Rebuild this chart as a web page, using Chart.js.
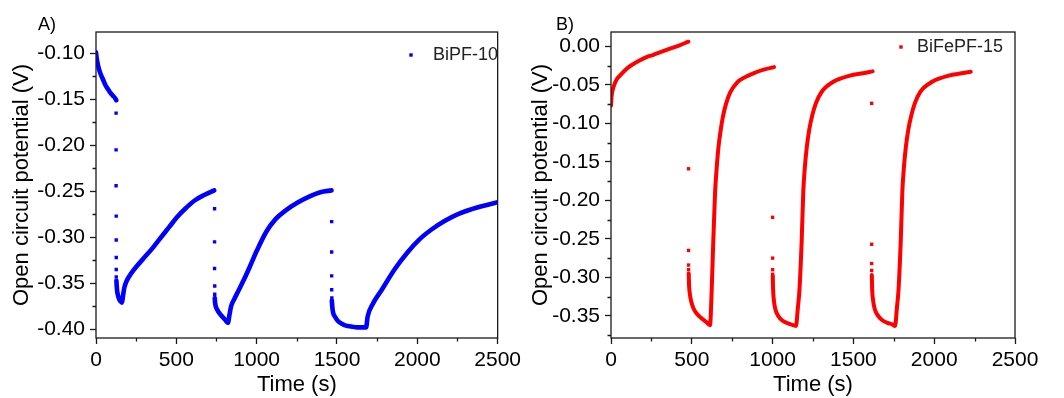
<!DOCTYPE html>
<html>
<head>
<meta charset="utf-8">
<script src="https://cdn.jsdelivr.net/npm/chart.js@4.4.1/dist/chart.umd.min.js"></script>
<style>
  html, body { margin: 0; padding: 0; background: #fff; }
  #wrap { position: relative; width: 1064px; height: 398px; }
  canvas { position: absolute; top: 0; }
  #chartA { left: 0; }
  #chartB { left: 525px; }
</style>
</head>
<body>
<div id="wrap">
  <canvas id="chartA" width="525" height="398"></canvas>
  <canvas id="chartB" width="539" height="398"></canvas>
</div>
<script>
/* Open circuit potential vs time, two samples.
   Values (time in s, potential in V). */

// ---- A) BiPF-10 ----
const aSeg1T = [0, 4, 10, 20, 30, 45, 60, 75, 90, 105, 120, 126];
const aSeg1V = [-0.099, -0.105, -0.111, -0.118, -0.123, -0.129, -0.135, -0.139, -0.143, -0.146, -0.149, -0.151];
const aDrop1T = [125, 125, 125, 126, 126, 126, 126, 126];
const aDrop1V = [-0.165, -0.205, -0.244, -0.277, -0.303, -0.322, -0.335, -0.343];
const aSeg2T = [127, 129, 132, 138, 146, 155, 162, 168, 176, 192, 216, 256, 306, 356, 405, 455, 505, 555, 614, 674, 736];
const aSeg2V = [-0.347, -0.353, -0.359, -0.364, -0.368, -0.370, -0.371, -0.364, -0.355, -0.347, -0.340, -0.331, -0.321, -0.311, -0.300, -0.289, -0.278, -0.269, -0.260, -0.254, -0.249];
const aDrop2T = [738, 738, 738, 739, 739];
const aDrop2V = [-0.269, -0.305, -0.334, -0.353, -0.362];
const aSeg3T = [739, 742, 747, 755, 770, 790, 805, 821, 831, 841, 861, 881, 921, 960, 1000, 1060, 1119, 1179, 1258, 1337, 1397, 1466];
const aSeg3V = [-0.366, -0.372, -0.376, -0.379, -0.383, -0.387, -0.390, -0.393, -0.384, -0.375, -0.367, -0.360, -0.346, -0.331, -0.315, -0.294, -0.280, -0.271, -0.262, -0.255, -0.251, -0.249];
const aDrop3T = [1467, 1467, 1467, 1467, 1468];
const aDrop3V = [-0.283, -0.316, -0.342, -0.357, -0.366];
const aSeg4T = [1468, 1471, 1476, 1490, 1506, 1530, 1556, 1590, 1625, 1660, 1681, 1691, 1721, 1779, 1858, 1936, 2015, 2093, 2172, 2250, 2328, 2407, 2500];
const aSeg4V = [-0.369, -0.376, -0.382, -0.387, -0.391, -0.394, -0.396, -0.397, -0.398, -0.398, -0.398, -0.386, -0.373, -0.357, -0.335, -0.317, -0.302, -0.291, -0.282, -0.275, -0.270, -0.266, -0.262];

// ---- B) BiFePF-15 ----
const bSeg1T = [0, 3, 10, 20, 35, 60, 97, 130, 179, 220, 262, 300, 365, 420, 479];
const bSeg1V = [-0.077, -0.066, -0.057, -0.050, -0.043, -0.037, -0.029, -0.024, -0.018, -0.014, -0.011, -0.008, -0.003, 0.001, 0.006];
const bDrop1T = [480, 480, 480, 480];
const bDrop1V = [-0.159, -0.265, -0.284, -0.290];
const bSeg2T = [481, 483, 487, 496, 510, 530, 560, 590, 613, 623, 633, 644, 654, 665, 678, 692, 710, 737, 780, 830, 881, 950, 1009];
const bSeg2V = [-0.295, -0.310, -0.320, -0.331, -0.340, -0.347, -0.353, -0.358, -0.362, -0.317, -0.253, -0.190, -0.158, -0.131, -0.110, -0.092, -0.076, -0.060, -0.047, -0.040, -0.035, -0.030, -0.027];
const bDrop2T = [1000, 1000, 1000, 1000];
const bDrop2V = [-0.222, -0.275, -0.290, -0.296];
const bSeg3T = [1001, 1003, 1008, 1018, 1035, 1060, 1100, 1145, 1156, 1166, 1180, 1190, 1200, 1212, 1227, 1245, 1268, 1304, 1376, 1479, 1560, 1619];
const bSeg3V = [-0.298, -0.315, -0.330, -0.342, -0.350, -0.356, -0.360, -0.363, -0.340, -0.317, -0.2525, -0.188, -0.156, -0.130, -0.108, -0.090, -0.074, -0.059, -0.046, -0.038, -0.035, -0.0325];
const bDrop3T = [1613, 1613, 1613, 1613];
const bDrop3V = [-0.074, -0.257, -0.282, -0.291];
const bSeg4T = [1614, 1616, 1622, 1632, 1650, 1675, 1710, 1740, 1758, 1769, 1779, 1793, 1803, 1813, 1825, 1840, 1858, 1880, 1914, 1987, 2090, 2170, 2226];
const bSeg4V = [-0.297, -0.315, -0.330, -0.341, -0.349, -0.355, -0.359, -0.361, -0.363, -0.340, -0.317, -0.2525, -0.188, -0.156, -0.130, -0.108, -0.090, -0.074, -0.059, -0.046, -0.038, -0.035, -0.033];

const xTicksMajor = 500;
const yTicksMajor = 0.05;

const FONT = '"Liberation Sans", Arial, Helvetica, sans-serif';
const AXIS = '#1a1a1a';

Chart.defaults.font.family = FONT;
Chart.defaults.color = '#000';
Chart.defaults.animation = false;

const pts = (ts, vs) => ts.map((t, i) => ({ x: t, y: vs[i] }));

function curve(ts, vs, color, w) {
  return {
    data: pts(ts, vs), showLine: true, borderColor: color, borderWidth: w,
    borderCapStyle: 'round', borderJoinStyle: 'round',
    pointRadius: 0, cubicInterpolationMode: 'monotone',
  };
}
function dots(label, ts, vs, color) {
  return {
    label, data: pts(ts, vs), showLine: false, pointStyle: 'rect',
    pointRadius: 2.4, backgroundColor: color, borderColor: color, borderWidth: 0,
  };
}

// frame, minor ticks, inside legend and panel letter
const decor = {
  id: 'decor',
  afterDraw(chart, args, o) {
    const { ctx, chartArea: ca } = chart;
    ctx.save();
    ctx.strokeStyle = AXIS;
    ctx.lineWidth = 1.3;
    ctx.strokeRect(ca.left, ca.top, ca.right - ca.left, ca.bottom - ca.top);

    ['x', 'y'].forEach((id) => {
      const s = chart.scales[id];
      const vals = s.ticks.map((t) => t.value);
      const step = id === 'x' ? xTicksMajor : yTicksMajor;
      const minors = [vals[0] - step / 2].concat(vals.map((v) => v + step / 2))
        .filter((v) => v > s.min && v < s.max);
      ctx.beginPath();
      minors.forEach((v) => {
        const p = Math.round(s.getPixelForValue(v)) + 0.5;
        if (id === 'x') { ctx.moveTo(p, ca.bottom); ctx.lineTo(p, ca.bottom + 3.5); }
        else { ctx.moveTo(ca.left, p); ctx.lineTo(ca.left - 3.5, p); }
      });
      ctx.stroke();
    });

    const ds = chart.data.datasets.find((d) => d.label);
    ctx.fillStyle = ds.backgroundColor;
    ctx.fillRect(o.legX - o.legGap - 1.7, o.legY - 1.7, 3.4, 3.4);
    ctx.fillStyle = '#222';
    ctx.font = '18px ' + FONT;
    ctx.textBaseline = 'middle';
    ctx.textAlign = 'left';
    ctx.fillText(ds.label, o.legX, o.legY);

    ctx.fillStyle = '#000';
    ctx.fillText(o.letter, o.letX, o.letY);
    ctx.restore();
  },
};

function makeChart(el, datasets, yMin, yMax, padRight, yWidth, titlePad, deco) {
  return new Chart(el, {
    type: 'scatter',
    data: { datasets },
    options: {
      responsive: false,
      layout: { padding: { left: 0, right: padRight, top: 32, bottom: 0 } },
      scales: {
        x: {
          type: 'linear', min: 0, max: 2500,
          ticks: {
            stepSize: xTicksMajor, font: { size: 21 }, color: '#000', padding: 4,
            maxRotation: 0, includeBounds: false, callback: (v) => String(v),
          },
          grid: { drawOnChartArea: false, drawTicks: true, tickLength: 6, tickWidth: 1.3, tickColor: AXIS },
          border: { display: false },
          title: { display: true, text: 'Time (s)', font: { size: 22 }, color: '#000', padding: { top: 0, bottom: 0 } },
          afterFit: (s) => { s.height = 60; },
        },
        y: {
          type: 'linear', min: yMin, max: yMax,
          ticks: {
            stepSize: yTicksMajor, font: { size: 21 }, color: '#000', padding: 5, includeBounds: false,
            callback: (v) => (Math.abs(v) < 1e-9 ? 0 : v).toFixed(2),
          },
          grid: { drawOnChartArea: false, drawTicks: true, tickLength: 6, tickWidth: 1.3, tickColor: AXIS },
          border: { display: false },
          title: { display: true, text: 'Open circuit potential (V)', font: { size: 22 }, color: '#000', padding: { top: titlePad, bottom: 0 } },
          afterFit: (s) => { s.width = yWidth; },
        },
      },
      plugins: { legend: { display: false }, tooltip: { enabled: false }, decor: deco },
    },
    plugins: [decor],
  });
}

const BLUE = '#0000ff';
const RED = '#ff0000';

makeChart(document.getElementById('chartA'), [
  curve(aSeg1T, aSeg1V, BLUE, 4.6),
  curve(aSeg2T, aSeg2V, BLUE, 4.6),
  curve(aSeg3T, aSeg3V, BLUE, 4.6),
  curve(aSeg4T, aSeg4V, BLUE, 4.6),
  dots('BiPF-10', aDrop1T.concat(aDrop2T, aDrop3T), aDrop1V.concat(aDrop2V, aDrop3V), BLUE),
], -0.4095, -0.0768, 15, 96, 9, { legX: 433, legY: 55, legGap: 22, letter: 'A)', letX: 38, letY: 25 });

makeChart(document.getElementById('chartB'), [
  curve(bSeg1T, bSeg1V, RED, 4),
  curve(bSeg2T, bSeg2V, RED, 4),
  curve(bSeg3T, bSeg3V, RED, 4),
  curve(bSeg4T, bSeg4V, RED, 4),
  dots('BiFePF-15', bDrop1T.concat(bDrop2T, bDrop3T), bDrop1V.concat(bDrop2V, bDrop3V), RED),
], -0.3787, 0.0186, 49, 86, 3, { legX: 392, legY: 47, legGap: 16, letter: 'B)', letX: 31, letY: 25 });
</script>
</body>
</html>
